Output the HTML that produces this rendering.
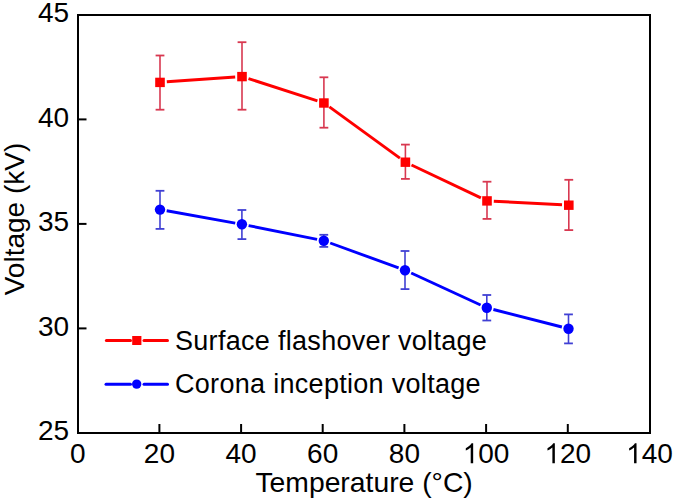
<!DOCTYPE html>
<html><head><meta charset="utf-8"><style>
html,body{margin:0;padding:0;background:#fff;width:675px;height:501px;overflow:hidden;font-family:"Liberation Sans",sans-serif;}
svg{display:block}
</style></head><body>
<svg width="675" height="501" viewBox="0 0 675 501">
<rect width="675" height="501" fill="#fff"/>
<g stroke="#d83850"><line x1="160.0" y1="55.5" x2="160.0" y2="109.7" stroke-width="1.6"/><line x1="155.6" y1="55.5" x2="164.4" y2="55.5" stroke-width="1.8"/><line x1="155.6" y1="109.7" x2="164.4" y2="109.7" stroke-width="1.8"/><line x1="242.0" y1="42.2" x2="242.0" y2="109.7" stroke-width="1.6"/><line x1="237.6" y1="42.2" x2="246.4" y2="42.2" stroke-width="1.8"/><line x1="237.6" y1="109.7" x2="246.4" y2="109.7" stroke-width="1.8"/><line x1="323.9" y1="77.3" x2="323.9" y2="127.7" stroke-width="1.6"/><line x1="319.5" y1="77.3" x2="328.3" y2="77.3" stroke-width="1.8"/><line x1="319.5" y1="127.7" x2="328.3" y2="127.7" stroke-width="1.8"/><line x1="405.4" y1="144.6" x2="405.4" y2="178.9" stroke-width="1.6"/><line x1="401.0" y1="144.6" x2="409.8" y2="144.6" stroke-width="1.8"/><line x1="401.0" y1="178.9" x2="409.8" y2="178.9" stroke-width="1.8"/><line x1="487.0" y1="181.7" x2="487.0" y2="218.9" stroke-width="1.6"/><line x1="482.6" y1="181.7" x2="491.4" y2="181.7" stroke-width="1.8"/><line x1="482.6" y1="218.9" x2="491.4" y2="218.9" stroke-width="1.8"/><line x1="568.8" y1="179.8" x2="568.8" y2="230.1" stroke-width="1.6"/><line x1="564.4" y1="179.8" x2="573.2" y2="179.8" stroke-width="1.8"/><line x1="564.4" y1="230.1" x2="573.2" y2="230.1" stroke-width="1.8"/></g>
<g stroke="#4040d4"><line x1="160.0" y1="190.8" x2="160.0" y2="228.9" stroke-width="1.6"/><line x1="155.6" y1="190.8" x2="164.4" y2="190.8" stroke-width="1.8"/><line x1="155.6" y1="228.9" x2="164.4" y2="228.9" stroke-width="1.8"/><line x1="241.9" y1="210.0" x2="241.9" y2="239.1" stroke-width="1.6"/><line x1="237.5" y1="210.0" x2="246.3" y2="210.0" stroke-width="1.8"/><line x1="237.5" y1="239.1" x2="246.3" y2="239.1" stroke-width="1.8"/><line x1="323.8" y1="234.8" x2="323.8" y2="246.9" stroke-width="1.6"/><line x1="319.4" y1="234.8" x2="328.2" y2="234.8" stroke-width="1.8"/><line x1="319.4" y1="246.9" x2="328.2" y2="246.9" stroke-width="1.8"/><line x1="405.0" y1="251.0" x2="405.0" y2="289.1" stroke-width="1.6"/><line x1="400.6" y1="251.0" x2="409.4" y2="251.0" stroke-width="1.8"/><line x1="400.6" y1="289.1" x2="409.4" y2="289.1" stroke-width="1.8"/><line x1="486.8" y1="295.0" x2="486.8" y2="320.5" stroke-width="1.6"/><line x1="482.4" y1="295.0" x2="491.2" y2="295.0" stroke-width="1.8"/><line x1="482.4" y1="320.5" x2="491.2" y2="320.5" stroke-width="1.8"/><line x1="568.5" y1="314.4" x2="568.5" y2="343.4" stroke-width="1.6"/><line x1="564.1" y1="314.4" x2="572.9" y2="314.4" stroke-width="1.8"/><line x1="564.1" y1="343.4" x2="572.9" y2="343.4" stroke-width="1.8"/></g>
<g stroke="#ff0000" stroke-width="2.9"><line x1="166.8" y1="81.8" x2="235.2" y2="77.0"/><line x1="248.5" y1="78.6" x2="317.4" y2="100.8"/><line x1="329.4" y1="106.9" x2="399.9" y2="158.1"/><line x1="411.5" y1="165.0" x2="480.9" y2="197.9"/><line x1="493.8" y1="201.2" x2="562.0" y2="204.7"/></g>
<g stroke="#0000ff" stroke-width="2.9"><line x1="166.7" y1="210.8" x2="235.2" y2="223.1"/><line x1="248.6" y1="225.6" x2="317.1" y2="239.4"/><line x1="330.2" y1="243.0" x2="398.6" y2="267.9"/><line x1="411.2" y1="273.0" x2="480.6" y2="305.0"/><line x1="493.4" y1="309.5" x2="561.9" y2="327.0"/></g>
<rect x="155.2" y="77.7" width="9.6" height="9.4" fill="#ff0000"/>
<rect x="237.2" y="71.9" width="9.6" height="9.4" fill="#ff0000"/>
<rect x="319.1" y="98.3" width="9.6" height="9.4" fill="#ff0000"/>
<rect x="400.6" y="157.5" width="9.6" height="9.4" fill="#ff0000"/>
<rect x="482.2" y="196.2" width="9.6" height="9.4" fill="#ff0000"/>
<rect x="564.0" y="200.5" width="9.6" height="9.4" fill="#ff0000"/>
<circle cx="160.0" cy="209.6" r="5.2" fill="#0000ff"/>
<circle cx="241.9" cy="224.3" r="5.2" fill="#0000ff"/>
<circle cx="323.8" cy="240.7" r="5.2" fill="#0000ff"/>
<circle cx="405.0" cy="270.2" r="5.2" fill="#0000ff"/>
<circle cx="486.8" cy="307.8" r="5.2" fill="#0000ff"/>
<circle cx="568.5" cy="328.7" r="5.2" fill="#0000ff"/>
<rect x="78" y="15" width="572" height="418" fill="none" stroke="#000" stroke-width="2"/>
<g stroke="#000" stroke-width="2"><line x1="159.4" y1="433" x2="159.4" y2="424"/><line x1="241.1" y1="433" x2="241.1" y2="424"/><line x1="322.7" y1="433" x2="322.7" y2="424"/><line x1="404.4" y1="433" x2="404.4" y2="424"/><line x1="486.1" y1="433" x2="486.1" y2="424"/><line x1="567.8" y1="433" x2="567.8" y2="424"/><line x1="78" y1="328.4" x2="86.5" y2="328.4"/><line x1="78" y1="223.9" x2="86.5" y2="223.9"/><line x1="78" y1="119.4" x2="86.5" y2="119.4"/></g>
<g font-family="Liberation Sans" font-size="28" fill="#000">
<text x="77.7" y="463.3" text-anchor="middle">0</text>
<text x="159.4" y="463.3" text-anchor="middle">20</text>
<text x="241.1" y="463.3" text-anchor="middle">40</text>
<text x="322.7" y="463.3" text-anchor="middle">60</text>
<text x="404.4" y="463.3" text-anchor="middle">80</text>
<path d="M763 0H583V1147Q518 1085 412.5 1023Q307 961 223 930V1104Q374 1175 487 1276Q600 1377 647 1472H763Z" transform="translate(462.74,463.3) scale(0.01367,-0.01367)"/>
<text x="478.31" y="463.3">00</text>
<path d="M763 0H583V1147Q518 1085 412.5 1023Q307 961 223 930V1104Q374 1175 487 1276Q600 1377 647 1472H763Z" transform="translate(544.42,463.3) scale(0.01367,-0.01367)"/>
<text x="559.99" y="463.3">20</text>
<path d="M763 0H583V1147Q518 1085 412.5 1023Q307 961 223 930V1104Q374 1175 487 1276Q600 1377 647 1472H763Z" transform="translate(626.10,463.3) scale(0.01367,-0.01367)"/>
<text x="641.67" y="463.3">40</text>
<text x="69.1" y="440.3" text-anchor="end">25</text>
<text x="69.1" y="335.8" text-anchor="end">30</text>
<text x="69.1" y="231.3" text-anchor="end">35</text>
<text x="69.1" y="126.8" text-anchor="end">40</text>
<text x="69.1" y="22.3" text-anchor="end">45</text>
</g>
<text x="364.1" y="492" text-anchor="middle" font-family="Liberation Sans" font-size="28.3">Temperature (°C)</text>
<text transform="translate(24,219) rotate(-90)" text-anchor="middle" font-family="Liberation Sans" font-size="28">Voltage (kV)</text>
<g stroke-width="3" stroke-linecap="round"><line x1="106.4" y1="340.4" x2="130.5" y2="340.4" stroke="#ff0000"/><line x1="144" y1="340.4" x2="167.5" y2="340.4" stroke="#ff0000"/>
<line x1="106" y1="384.2" x2="130.5" y2="384.2" stroke="#0000ff"/><line x1="144" y1="384.2" x2="167.5" y2="384.2" stroke="#0000ff"/></g>
<rect x="132.2" y="336" width="9.2" height="9" fill="#ff0000"/>
<circle cx="136.7" cy="384.1" r="4.7" fill="#0000ff"/>
<g font-family="Liberation Sans" font-size="27" fill="#000" letter-spacing="0.3"><text x="175" y="350">Surface flashover voltage</text><text x="175" y="392.7">Corona inception voltage</text></g>
</svg>
</body></html>
